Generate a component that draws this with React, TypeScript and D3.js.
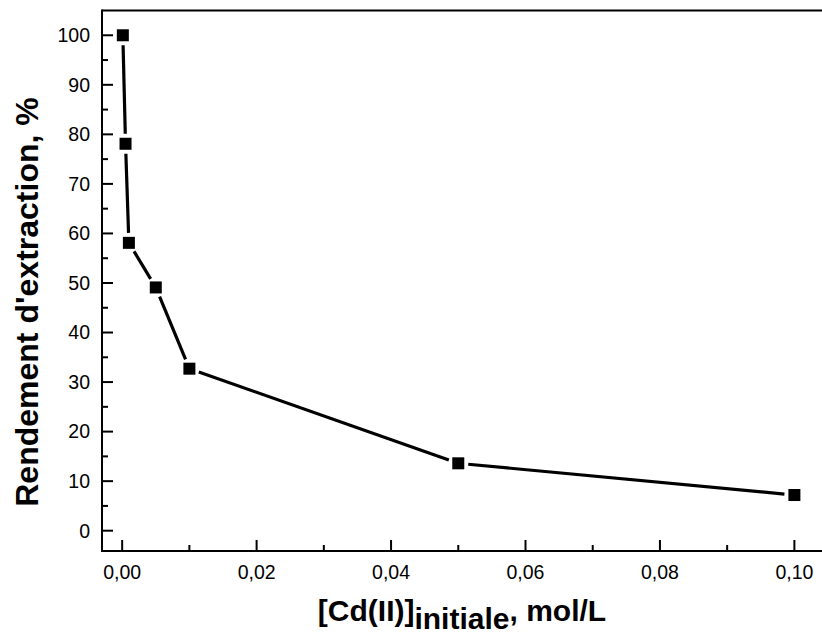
import React from "react";
import * as d3 from "d3";

const concentrations = [0.0001, 0.0005, 0.001, 0.005, 0.01, 0.05, 0.1];
const yields = [100, 78.1, 58.1, 49.1, 32.7, 13.6, 7.2];
const xTicks = [0, 0.02, 0.04, 0.06, 0.08, 0.1];
const xMinorTicks = [0.01, 0.03, 0.05, 0.07, 0.09];
const yTicks = [0, 10, 20, 30, 40, 50, 60, 70, 80, 90, 100];
const yMinorTicks = [5, 15, 25, 35, 45, 55, 65, 75, 85, 95];
const yTitle = "Rendement d'extraction, %";
const xTitleMain = "[Cd(II)]";
const xTitleSub = "initiale";
const xTitleEnd = ", mol/L";

const W = 822;
const H = 637;
const left = 102;
const top = 10.5;
const bottom = 551;
const right = 828;

export default function App() {
  const x = d3.scaleLinear().domain([-0.003, 0.105]).range([left, right]);
  const y = d3.scaleLinear().domain([-4.1, 105]).range([bottom, top]);
  const fmtX = (v: number) => d3.format(".2f")(v).replace(".", ",");
  const pts = concentrations.map((c, i) => [x(c), y(yields[i])] as [number, number]);
  const gap = 10;
  const segs = pts.slice(0, -1).map((p, i) => {
    const q = pts[i + 1];
    const dx = q[0] - p[0];
    const dy = q[1] - p[1];
    const len = Math.hypot(dx, dy);
    const ux = dx / len;
    const uy = dy / len;
    return [p[0] + ux * gap, p[1] + uy * gap, q[0] - ux * gap, q[1] - uy * gap];
  });
  const font = "'Liberation Sans', Arial, sans-serif";
  const ms = 12;
  return (
    <svg width={W} height={H} style={{ position: "absolute", left: 0, top: 0, background: "#fff" }}>
      <rect width={W} height={H} fill="#fff" />
      {/* frame */}
      <line x1={left} x2={right} y1={top} y2={top} stroke="#000" strokeWidth={2} />
      <line x1={left} x2={right} y1={bottom} y2={bottom} stroke="#000" strokeWidth={2} />
      <line x1={left} x2={left} y1={top - 1} y2={bottom + 1} stroke="#000" strokeWidth={2} />
      {/* y ticks */}
      {yTicks.map((t) => (
        <g key={"y" + t}>
          <line x1={left} x2={left + 11} y1={y(t)} y2={y(t)} stroke="#000" strokeWidth={2} />
          <text x={left - 12} y={y(t)} dy="0.35em" textAnchor="end" fontFamily={font} fontSize={19.5} fill="#000">
            {t}
          </text>
        </g>
      ))}
      {yMinorTicks.map((t) => (
        <line key={"ym" + t} x1={left} x2={left + 6} y1={y(t)} y2={y(t)} stroke="#000" strokeWidth={2} />
      ))}
      {/* x ticks */}
      {xTicks.map((t) => (
        <g key={"x" + t}>
          <line x1={x(t)} x2={x(t)} y1={bottom} y2={bottom - 11} stroke="#000" strokeWidth={2} />
          <text x={x(t)} y={579} textAnchor="middle" fontFamily={font} fontSize={19.5} fill="#000">
            {fmtX(t)}
          </text>
        </g>
      ))}
      {xMinorTicks.map((t) => (
        <line key={"xm" + t} x1={x(t)} x2={x(t)} y1={bottom} y2={bottom - 6} stroke="#000" strokeWidth={2} />
      ))}
      {/* line */}
      {segs.map((s, i) => (
        <line key={"s" + i} x1={s[0]} y1={s[1]} x2={s[2]} y2={s[3]} stroke="#000" strokeWidth={3.2} />
      ))}
      {pts.map((p, i) => (
        <rect key={"m" + i} x={p[0] - ms / 2} y={p[1] - ms / 2} width={ms} height={ms} fill="#000" />
      ))}
      {/* titles */}
      <text
        transform={`translate(38, ${302}) rotate(-90)`}
        textAnchor="middle"
        fontFamily={font}
        fontWeight="bold"
        fontSize={32}
        fill="#000"
      >
        {yTitle}
      </text>
      <text x={462} y={621} textAnchor="middle" fontFamily={font} fontWeight="bold" fontSize={30} fill="#000">
        <tspan>{xTitleMain}</tspan>
        <tspan dy={8}>{xTitleSub}</tspan>
        <tspan dy={-8}>{xTitleEnd}</tspan>
      </text>
    </svg>
  );
}
